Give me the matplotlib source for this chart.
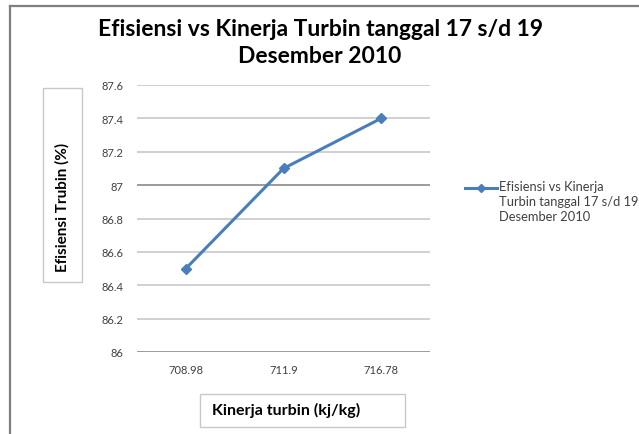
import matplotlib
matplotlib.use("Agg")
import matplotlib.pyplot as plt
from matplotlib.patches import Rectangle
from matplotlib.lines import Line2D

categories = ["708.98", "711.9", "716.78"]
efisiensi = [86.5, 87.1, 87.4]
yticks = [86, 86.2, 86.4, 86.6, 86.8, 87, 87.2, 87.4, 87.6]
ytick_labels = ["86", "86.2", "86.4", "86.6", "86.8", "87", "87.2", "87.4", "87.6"]

title = "Efisiensi vs Kinerja Turbin tanggal 17 s/d 19\nDesember 2010"
series_name = "Efisiensi vs Kinerja\nTurbin tanggal 17 s/d 19\nDesember 2010"

W, H = 639, 435
fig = plt.figure(figsize=(W / 100, H / 100), dpi=100)
plt.rcParams['font.family'] = ['Lato', 'DejaVu Sans']

def fx(x):
    return x / W

def fy(y):
    return 1 - y / H

# outer frame (left and top lines)
fig.add_artist(Line2D([fx(10), fx(10)], [fy(7), fy(435)], color="#7f7f7f", lw=1.6, transform=fig.transFigure))
fig.add_artist(Line2D([fx(10), fx(639)], [fy(7), fy(7)], color="#7f7f7f", lw=1.6, transform=fig.transFigure))

ax = fig.add_axes([fx(137), fy(353), fx(430) - fx(137), fy(86) - fy(353)])
color = "#4a7ebb"
x = list(range(len(categories)))
ax.plot(x, efisiensi, color=color, lw=2.2, marker="D", markersize=5, label=series_name)
ax.set_xlim(-0.5, len(categories) - 0.5)
ax.set_ylim(86, 87.6)
ax.set_yticks(yticks)
ax.set_yticklabels(ytick_labels)
ax.set_xticks(x)
ax.set_xticklabels(categories)
for yv in yticks:
    c = "#8a8a8a" if yv in (86, 87) else "#c8c8c8"
    ax.axhline(yv, color=c, lw=1.2, zorder=0)
for s in ax.spines.values():
    s.set_visible(False)
ax.tick_params(axis="both", length=0, labelsize=8, colors="#404040")
ax.tick_params(axis="y", pad=10)
ax.tick_params(axis="x", pad=9)

fig.text(fx(320), fy(43), title, ha="center", va="center", fontsize=16.5,
         fontweight="bold", color="black", linespacing=1.4)

# y label box
fig.add_artist(Rectangle((fx(43), fy(283)), fx(82) - fx(43), fy(89) - fy(283),
                         transform=fig.transFigure, fill=False, ec="#c8c8c8", lw=1))
fig.text(fx(62), fy(207), "Efisiensi Trubin (%)", rotation=90, ha="center", va="center",
         fontsize=11, fontweight="bold")

# x label box
fig.add_artist(Rectangle((fx(200), fy(428)), fx(405) - fx(200), fy(395) - fy(428),
                         transform=fig.transFigure, fill=False, ec="#c8c8c8", lw=1))
fig.text(fx(212), fy(410), "Kinerja turbin (kj/kg)", ha="left", va="center",
         fontsize=11.5, fontweight="bold")

# legend
fig.add_artist(Line2D([fx(465), fx(497)], [fy(189), fy(189)], color=color, lw=2.2,
                      transform=fig.transFigure))
fig.add_artist(Line2D([fx(481)], [fy(189)], color=color, marker="D", markersize=4.5,
                      transform=fig.transFigure))
fig.text(fx(499), fy(181), series_name, ha="left", va="top", fontsize=9.3,
         color="#404040", linespacing=1.3)

fig.savefig("out.png", dpi=100)
